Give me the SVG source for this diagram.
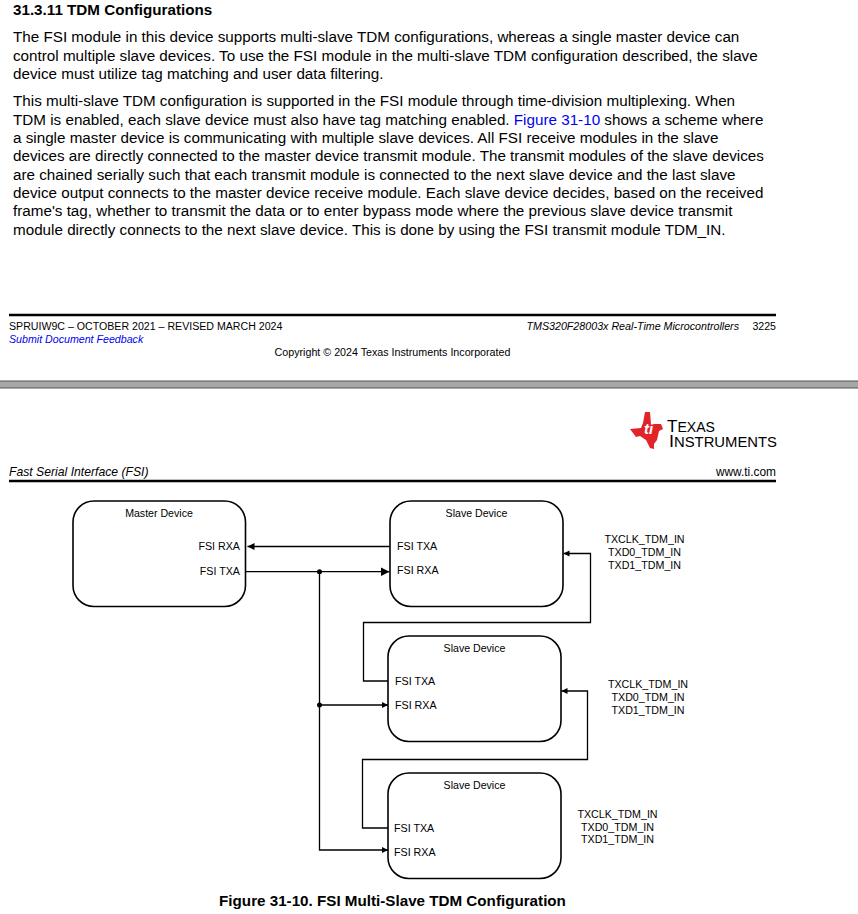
<svg xmlns="http://www.w3.org/2000/svg" width="858" height="914" viewBox="0 0 858 914">
<style>
text{font-family:"Liberation Sans",Arial,sans-serif;fill:#000}
.p{font-size:15.23px}
.s{font-size:10.6px}
.d{font-size:10.7px}
.m{text-anchor:middle}
.e{text-anchor:end}
.box{fill:#fff;stroke:#000;stroke-width:1.6}
.w{fill:none;stroke:#000;stroke-width:1.3}
.rule{stroke:#000;stroke-width:2.4}
</style>
<defs>
<marker id="a" markerUnits="userSpaceOnUse" markerWidth="10" markerHeight="10" refX="9" refY="4.500" orient="auto"><path d="M0 0L9 4.500L0 9Z" fill="#000"/></marker>
<marker id="b" markerUnits="userSpaceOnUse" markerWidth="10" markerHeight="10" refX="7" refY="3.500" orient="auto"><path d="M0 0L7 3.500L0 7Z" fill="#000"/></marker>
<marker id="c" markerUnits="userSpaceOnUse" markerWidth="10" markerHeight="10" refX="6" refY="3" orient="auto"><path d="M0 0L6 3L0 6Z" fill="#000"/></marker>
</defs>
<rect width="858" height="914" fill="#fff"/>

<text x="13" y="15" font-size="15.2" font-weight="700">31.3.11 TDM Configurations</text>
<g>
<text class="p" x="13" y="42">The FSI module in this device supports multi-slave TDM configurations, whereas a single master device can</text>
<text class="p" x="13" y="61">control multiple slave devices. To use the FSI module in the multi-slave TDM configuration described, the slave</text>
<text class="p" x="13" y="79">device must utilize tag matching and user data filtering.</text>
<text class="p" x="13" y="106">This multi-slave TDM configuration is supported in the FSI module through time-division multiplexing. When</text>
<text class="p" x="13" y="125">TDM is enabled, each slave device must also have tag matching enabled. <tspan style="fill:#0000ee">Figure 31-10</tspan> shows a scheme where</text>
<text class="p" x="13" y="143">a single master device is communicating with multiple slave devices. All FSI receive modules in the slave</text>
<text class="p" x="13" y="161">devices are directly connected to the master device transmit module. The transmit modules of the slave devices</text>
<text class="p" x="13" y="180">are chained serially such that each transmit module is connected to the next slave device and the last slave</text>
<text class="p" x="13" y="198">device output connects to the master device receive module. Each slave device decides, based on the received</text>
<text class="p" x="13" y="216">frame's tag, whether to transmit the data or to enter bypass mode where the previous slave device transmit</text>
<text class="p" x="13" y="235">module directly connects to the next slave device. This is done by using the FSI transmit module TDM_IN.</text>
</g>

<line class="rule" x1="9" y1="315" x2="776" y2="315"/>
<text x="9" y="330" font-size="10.62">SPRUIW9C – OCTOBER 2021 – REVISED MARCH 2024</text>
<text x="739" y="330" font-size="10.7" font-style="italic" class="e">TMS320F28003x Real-Time Microcontrollers</text>
<text x="776" y="330" font-size="10.6" class="e">3225</text>
<text x="9" y="343" font-size="10.65" font-style="italic" style="fill:#0000ee">Submit Document Feedback</text>
<text x="392.500" y="356" font-size="10.7" class="m">Copyright © 2024 Texas Instruments Incorporated</text>

<rect x="-3" y="381" width="864" height="7" fill="#a6a6a6" stroke="#555" stroke-width="1"/>

<g id="logo">
<path d="M645 412L650 412L651 424L661 424L663 429L659 431L657 440L654 444L654 449L650 448L646 440L640 436L636 437L630 429L641 428L643 423Z" fill="#e1232a"/>
<text x="644" y="434" font-size="15" font-style="italic" font-weight="700" style="fill:#fff">ti</text>
<text font-size="17"><tspan x="667" y="432" textLength="48" lengthAdjust="spacingAndGlyphs">T<tspan font-size="14">EXAS</tspan></tspan><tspan x="669" y="447" textLength="108" lengthAdjust="spacingAndGlyphs">I<tspan font-size="14">NSTRUMENTS</tspan></tspan></text>
</g>
<text x="9" y="476" font-size="12.2" font-style="italic">Fast Serial Interface (FSI)</text>
<text x="776" y="476" font-size="11.9" class="e">www.ti.com</text>
<line class="rule" x1="9" y1="481" x2="776" y2="481"/>

<g id="connectors">
<path class="w" d="M390 546.500H247.500" marker-end="url(#b)"/>
<path class="w" d="M245 571.700H389.500" marker-end="url(#a)"/>
<path class="w" d="M319.500 571.700V850H388" marker-end="url(#c)"/>
<path class="w" d="M319.500 705H388" marker-end="url(#c)"/>
<circle cx="319.500" cy="571.700" r="2.500" fill="#000"/>
<circle cx="319.500" cy="705" r="2.500" fill="#000"/>
<path class="w" d="M390 681H363.500V622.500H590.500V553.500H563.500" marker-end="url(#c)"/>
<path class="w" d="M388 828H362.500V759.500H587.500V691H561.500" marker-end="url(#c)"/>
</g>

<g id="master">
<rect class="box" x="73" y="501" width="172.500" height="105.500" rx="21"/>
<text class="s m" x="159" y="517">Master Device</text>
<text class="d e" x="240" y="550">FSI RXA</text>
<text class="d e" x="240" y="575">FSI TXA</text>
</g>
<g id="slave1">
<rect class="box" x="390" y="501" width="173" height="105.500" rx="21"/>
<text class="s m" x="476.500" y="517">Slave Device</text>
<text class="d" x="397" y="550">FSI TXA</text>
<text class="d" x="397" y="574">FSI RXA</text>
<text class="d m" x="644.500" y="543">TXCLK_TDM_IN</text>
<text class="d m" x="644.500" y="556">TXD0_TDM_IN</text>
<text class="d m" x="644.500" y="569">TXD1_TDM_IN</text>
</g>
<g id="slave2">
<rect class="box" x="388" y="636" width="173" height="105.500" rx="21"/>
<text class="s m" x="474.500" y="652">Slave Device</text>
<text class="d" x="395" y="685">FSI TXA</text>
<text class="d" x="395" y="709">FSI RXA</text>
<text class="d m" x="648" y="688">TXCLK_TDM_IN</text>
<text class="d m" x="648" y="701">TXD0_TDM_IN</text>
<text class="d m" x="648" y="714">TXD1_TDM_IN</text>
</g>
<g id="slave3">
<rect class="box" x="388" y="773" width="173" height="105.500" rx="21"/>
<text class="s m" x="474.500" y="789">Slave Device</text>
<text class="d" x="394" y="832">FSI TXA</text>
<text class="d" x="394" y="856">FSI RXA</text>
<text class="d m" x="617.500" y="818">TXCLK_TDM_IN</text>
<text class="d m" x="617.500" y="831">TXD0_TDM_IN</text>
<text class="d m" x="617.500" y="843">TXD1_TDM_IN</text>
</g>
<text x="392.500" y="906" font-size="15.2" font-weight="700" class="m">Figure 31-10. FSI Multi-Slave TDM Configuration</text>
</svg>
